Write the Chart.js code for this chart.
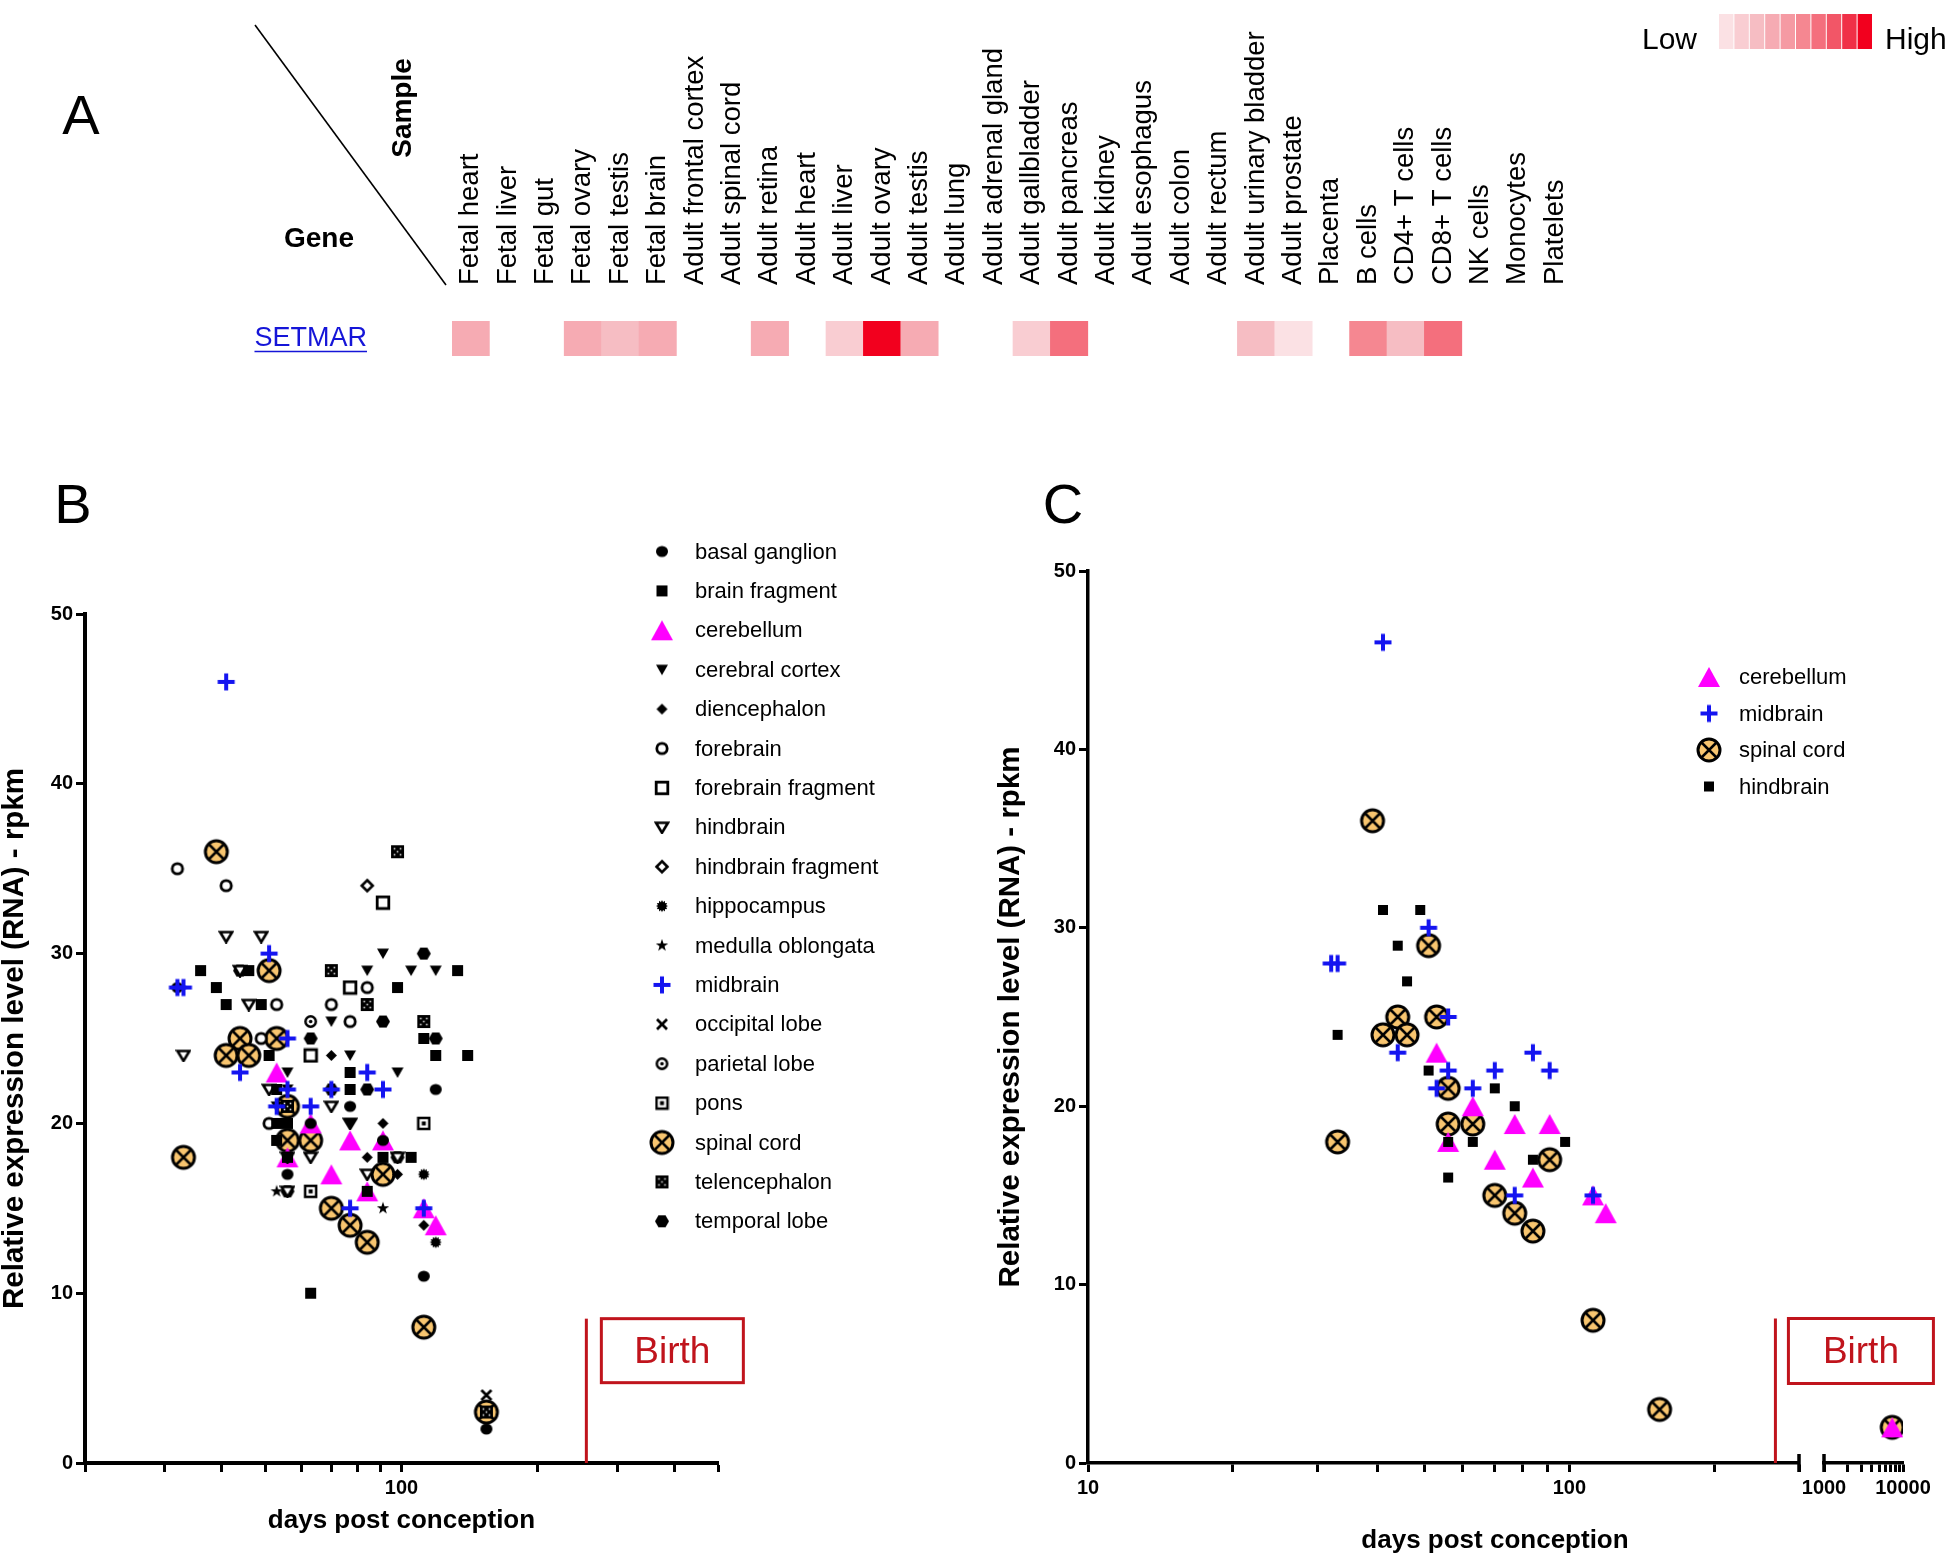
<!DOCTYPE html>
<html><head><meta charset="utf-8">
<script src="https://cdn.jsdelivr.net/npm/chart.js@4.4.1/dist/chart.umd.min.js"></script>
<style>
html,body{margin:0;padding:0;background:#fff;}
body{width:1952px;height:1556px;position:relative;overflow:hidden;}
canvas{position:absolute;display:block;}
</style></head><body>
<canvas id="cA" width="1952" height="470" style="left:0;top:0"></canvas>
<canvas id="cB" width="960" height="1086" style="left:0;top:470px"></canvas>
<canvas id="cC" width="992" height="1086" style="left:960px;top:470px"></canvas>
<canvas id="cC2" width="162" height="1086" style="left:1790px;top:470px"></canvas>
<script>
// ---------------- DATA ----------------
const tissues = ['Fetal heart','Fetal liver','Fetal gut','Fetal ovary','Fetal testis','Fetal brain','Adult frontal cortex','Adult spinal cord','Adult retina','Adult heart','Adult liver','Adult ovary','Adult testis','Adult lung','Adult adrenal gland','Adult gallbladder','Adult pancreas','Adult kidney','Adult esophagus','Adult colon','Adult rectum','Adult urinary bladder','Adult prostate','Placenta','B cells','CD4+ T cells','CD8+ T cells','NK cells','Monocytes','Platelets'];
const setmarLevels = [4,0,0,4,3,4,0,0,4,0,2,10,4,0,0,2,7,0,0,0,0,3,1,0,6,3,7,0,0,0];
const geneName = 'SETMAR';

// [days post conception, rpkm]
const basalGanglion = [[32,28],[56,17],[77,21],[119,22],[91,19],[112,11],[154,2],[63,20]];
const brainFragment = [[36,29],[46,29],[39,28],[41,27],[49,27],[51,24],[133,29],[98,28],[112,25],[119,24],[140,24],[77,23],[77,22],[53,22],[53,20],[56,20],[53,19],[56,18],[91,18],[105,18],[84,16],[63,10]];
const cerebellum = [[53,23],[63,20],[77,19],[91,19],[56,18],[70,17],[84,16],[112,15],[119,14],[7300,2]];
const cerebralCortex = [[56,23],[70,26],[91,30],[84,29],[105,29],[119,29],[77,24],[98,23],[77,20],[53,21],[56,22]];
const diencephalon = [[70,24],[91,20],[84,18],[98,17],[112,14]];
const forebrain = [[32,35],[41,34],[53,27],[70,27],[49,25],[84,28],[77,26],[51,20]];
const forebrainFragment = [[91,33],[77,28],[63,24]];
const hindbrain = [[41,31],[49,31],[44,29],[46,27],[33,24],[51,22],[56,18],[63,18],[56,16],[70,21],[77,20],[84,17],[98,18]];
const hindbrainFragment = [[84,34]];
const hippocampus = [[112,17],[119,13]];
const medullaOblongata = [[53,16],[91,15]];
const midbrain = [[41,46],[32,28],[33,28],[51,30],[44,23],[56,25],[56,22],[53,21],[63,21],[70,22],[84,23],[91,22],[77,15],[112,15]];
const occipitalLobe = [[154,4]];
const parietalLobe = [[63,26]];
const pons = [[63,16],[112,20]];
const spinalCord = [[39,36],[51,29],[44,25],[41,24],[46,24],[53,25],[56,21],[56,19],[63,19],[33,18],[91,17],[70,15],[77,14],[84,13],[112,8],[154,3],[7300,2]];
const telencephalon = [[98,36],[70,29],[84,27],[112,26],[56,21],[154,3]];
const temporalLobe = [[44,29],[63,25],[112,30],[91,26],[119,25],[70,22],[84,22],[98,18],[56,16]];

const regionNamesB = ['basal ganglion','brain fragment','cerebellum','cerebral cortex','diencephalon','forebrain','forebrain fragment','hindbrain','hindbrain fragment','hippocampus','medulla oblongata','midbrain','occipital lobe','parietal lobe','pons','spinal cord','telencephalon','temporal lobe'];
const regionPointsB = [basalGanglion,brainFragment,cerebellum,cerebralCortex,diencephalon,forebrain,forebrainFragment,hindbrain,hindbrainFragment,hippocampus,medullaOblongata,midbrain,occipitalLobe,parietalLobe,pons,spinalCord,telencephalon,temporalLobe];
const regionNamesC = ['cerebellum','midbrain','spinal cord','hindbrain'];
const regionPointsC = [cerebellum,midbrain,spinalCord,hindbrain];

const yTicks = [0,10,20,30,40,50];
const xTicksB = [20,30,40,50,60,70,80,90,100,200,300,400,500];
const xLabelsB = [100];
const xTicksC = [10,20,30,40,50,60,70,80,90,100,200,300];
const xLabelsC = [10,100];
const xTicksC2 = [1000,2000,3000,4000,5000,6000,7000,8000,9000,10000];
const xLabelsC2 = [1000,10000];
const birthDayB = 256, birthDayC = 268;

// ---------------- STYLE ----------------
const FF = "'Liberation Sans', Arial, Helvetica, sans-serif";
const NARROW = "'Liberation Sans Narrow', 'Arial Narrow', 'Liberation Sans', sans-serif";
const RED = '#c0141c';
const heatPalette = [null,'#fbe1e4','#f9cdd2','#f6bdc3','#f6abb3','#f59aa3','#f58791','#f46f7d','#f25667','#f03047','#f2001e'];
const colFont = 27.5;

function makeMarker(w,h,fn){const c=document.createElement('canvas');c.width=w;c.height=h;const g=c.getContext('2d');g.translate(w/2,h/2);fn(g);return c;}
const K='#000';
const M = {
  basal: makeMarker(14,14,g=>{g.fillStyle=K;g.beginPath();g.ellipse(0,0,6,5.5,0,0,2*Math.PI);g.fill();}),
  brainFrag: makeMarker(13,13,g=>{g.fillStyle=K;g.fillRect(-5.5,-5.5,11,11);}),
  cerebellum: makeMarker(24,22,g=>{g.fillStyle='#ff00ff';g.beginPath();g.moveTo(0,-10);g.lineTo(11,10);g.lineTo(-11,10);g.closePath();g.fill();}),
  cerebral: makeMarker(14,13,g=>{g.fillStyle=K;g.beginPath();g.moveTo(-6,-5);g.lineTo(6,-5);g.lineTo(0,5.5);g.closePath();g.fill();}),
  dienceph: makeMarker(13,13,g=>{g.fillStyle=K;g.beginPath();g.moveTo(0,-5.5);g.lineTo(5.5,0);g.lineTo(0,5.5);g.lineTo(-5.5,0);g.closePath();g.fill();}),
  forebrain: makeMarker(16,16,g=>{g.fillStyle='#fff';g.strokeStyle=K;g.lineWidth=2.8;g.beginPath();g.arc(0,0,5.2,0,2*Math.PI);g.fill();g.stroke();}),
  forebrainFrag: makeMarker(16,16,g=>{g.fillStyle='#fff';g.fillRect(-5.8,-5.8,11.6,11.6);g.strokeStyle=K;g.lineWidth=2.8;g.strokeRect(-5.8,-5.8,11.6,11.6);}),
  hindbrain: makeMarker(16,14,g=>{g.fillStyle='#fff';g.strokeStyle=K;g.lineWidth=2.6;g.beginPath();g.moveTo(-6,-4.5);g.lineTo(6,-4.5);g.lineTo(0,5.5);g.closePath();g.fill();g.stroke();}),
  hindbrainFrag: makeMarker(16,16,g=>{g.fillStyle='#fff';g.strokeStyle=K;g.lineWidth=2.6;g.beginPath();g.moveTo(0,-5.5);g.lineTo(5.5,0);g.lineTo(0,5.5);g.lineTo(-5.5,0);g.closePath();g.fill();g.stroke();}),
  hippo: makeMarker(14,14,g=>{g.fillStyle=K;g.beginPath();for(let i=0;i<24;i++){const a=i*Math.PI/12;const r=i%2?4.2:6;g.lineTo(r*Math.cos(a),r*Math.sin(a));}g.closePath();g.fill();}),
  medulla: makeMarker(14,14,g=>{g.fillStyle=K;g.beginPath();for(let i=0;i<10;i++){const a=-Math.PI/2+i*Math.PI/5;const r=i%2?2.6:6.5;g.lineTo(r*Math.cos(a),r*Math.sin(a));}g.closePath();g.fill();}),
  midbrain: makeMarker(20,20,g=>{g.fillStyle='#1414f0';g.fillRect(-8.5,-2,17,4);g.fillRect(-2,-8.5,4,17);}),
  occipital: makeMarker(14,14,g=>{g.strokeStyle=K;g.lineWidth=2.8;g.beginPath();g.moveTo(-5,-5);g.lineTo(5,5);g.moveTo(5,-5);g.lineTo(-5,5);g.stroke();}),
  parietal: makeMarker(15,15,g=>{g.strokeStyle=K;g.lineWidth=2.5;g.fillStyle='#fff';g.beginPath();g.arc(0,0,5.2,0,2*Math.PI);g.fill();g.stroke();g.fillStyle=K;g.beginPath();g.arc(0,0,1.8,0,2*Math.PI);g.fill();}),
  pons: makeMarker(15,15,g=>{g.fillStyle='#fff';g.fillRect(-5.5,-5.5,11,11);g.strokeStyle=K;g.lineWidth=2.5;g.strokeRect(-5.5,-5.5,11,11);g.fillStyle=K;g.fillRect(-2,-2,4,4);}),
  spinal: makeMarker(28,28,g=>{g.beginPath();g.arc(0,0,11,0,2*Math.PI);g.fillStyle='#f8c56f';g.fill();g.lineWidth=3;g.strokeStyle=K;g.stroke();g.lineWidth=2.5;const d=7;g.beginPath();g.moveTo(-d,-d);g.lineTo(d,d);g.moveTo(d,-d);g.lineTo(-d,d);g.stroke();}),
  telen: makeMarker(15,15,g=>{g.fillStyle=K;g.fillRect(-6.5,-6.5,13,13);g.fillStyle='#ddd';[[-3,-3],[3,-3],[-3,3],[3,3],[0,0]].forEach(([a,b])=>g.fillRect(a-0.8,b-0.8,1.6,1.6));}),
  temporal: makeMarker(16,14,g=>{g.fillStyle=K;g.beginPath();g.moveTo(-7,0);g.lineTo(-3.5,-6);g.lineTo(3.5,-6);g.lineTo(7,0);g.lineTo(3.5,6);g.lineTo(-3.5,6);g.closePath();g.fill();}),
  squareC: makeMarker(12,12,g=>{g.fillStyle=K;g.fillRect(-5,-5,10,10);})
};
const markerB = {'basal ganglion':M.basal,'brain fragment':M.brainFrag,'cerebellum':M.cerebellum,'cerebral cortex':M.cerebral,'diencephalon':M.dienceph,'forebrain':M.forebrain,'forebrain fragment':M.forebrainFrag,'hindbrain':M.hindbrain,'hindbrain fragment':M.hindbrainFrag,'hippocampus':M.hippo,'medulla oblongata':M.medulla,'midbrain':M.midbrain,'occipital lobe':M.occipital,'parietal lobe':M.parietal,'pons':M.pons,'spinal cord':M.spinal,'telencephalon':M.telen,'temporal lobe':M.temporal};
const markerC = {'cerebellum':M.cerebellum,'midbrain':M.midbrain,'spinal cord':M.spinal,'hindbrain':M.squareC};
const layer = {'spinal cord':4,'cerebellum':3,'midbrain':1};

const tickFont = {family:FF,size:20,weight:'bold'};
const titleFont = {family:FF,size:26,weight:'bold'};
const yTitleFont = {family:FF,size:29.5,weight:'bold'};

// ---------------- PANEL A ----------------
const panelA = {
  id:'panelA',
  afterDraw(chart){
    const ctx=chart.ctx; ctx.save();
    ctx.fillStyle='#000'; ctx.font=`56px ${NARROW}`; ctx.textAlign='center'; ctx.textBaseline='alphabetic';
    ctx.fillText('A',81,134);
    ctx.strokeStyle='#000'; ctx.lineWidth=1.6; ctx.beginPath(); ctx.moveTo(255,25); ctx.lineTo(446,285); ctx.stroke();
    ctx.font=`bold 28px ${FF}`;
    ctx.fillText('Gene',319,247);
    ctx.save(); ctx.translate(411,108); ctx.rotate(-Math.PI/2); ctx.textBaseline='alphabetic'; ctx.fillText('Sample',0,0); ctx.restore();
    // underline of gene link
    const ys=chart.scales.yg; const ly=ys.getPixelForValue(0);
    ctx.font=`27px ${FF}`; const w=ctx.measureText(geneName).width;
    const rx=ys.right-85;
    ctx.strokeStyle='#1515d8'; ctx.lineWidth=1.6; ctx.beginPath(); ctx.moveTo(rx-w,ly+13); ctx.lineTo(rx,ly+13); ctx.stroke();
    // colour key
    const x0=1719, sw=15.4;
    for(let i=1;i<=10;i++){ctx.fillStyle=heatPalette[i]; ctx.fillRect(x0+(i-1)*sw,14,sw-1,35);}
    ctx.fillStyle='#000'; ctx.font=`30px ${FF}`; ctx.textAlign='left'; ctx.textBaseline='alphabetic';
    ctx.fillText('Low',1642,49); ctx.fillText('High',1885,49);
    ctx.restore();
  }
};
new Chart(document.getElementById('cA'),{
  type:'bar',
  data:{labels:tissues,datasets:[{data:setmarLevels.map(l=>l>0?1:null),backgroundColor:setmarLevels.map(l=>heatPalette[l]||'#fff'),barPercentage:1,categoryPercentage:1,borderWidth:0,xAxisID:'x',yAxisID:'y'}]},
  options:{responsive:false,animation:false,events:[],
    layout:{autoPadding:false,padding:{left:0,top:0,right:378,bottom:114}},
    plugins:{legend:{display:false},tooltip:{enabled:false}},
    scales:{
      x:{type:'category',position:'top',offset:true,afterFit:s=>{s.height=321;},grid:{display:false},border:{display:false},
         ticks:{autoSkip:false,minRotation:90,maxRotation:90,padding:28,labelOffset:colFont*1.2,font:{family:FF,size:colFont},color:'#000'}},
      y:{type:'linear',min:0,max:1,display:false},
      yg:{type:'category',labels:[geneName],position:'left',offset:true,afterFit:s=>{s.width=452;},grid:{display:false},border:{display:false},
         ticks:{padding:77,font:{family:FF,size:27},color:'#1515d8'}}
    }},
  plugins:[panelA]
});

// ---------------- helpers for B & C ----------------
function yAxis(width,title,bw){
  return {type:'linear',min:0,max:50,afterFit:s=>{s.width=width;},
    afterBuildTicks:s=>{s.ticks=yTicks.map(v=>({value:v}));},
    ticks:{padding:3,font:tickFont,color:'#000'},
    grid:{drawOnChartArea:false,drawTicks:true,tickLength:9,tickWidth:3,color:'#000'},
    border:{display:true,width:bw,color:'#000'},
    title:{display:!!title,text:title,font:yTitleFont,color:'#000',padding:{top:-3,bottom:0}}};
}
function xAxis(min,max,ticks,labels,title,bw){
  return {type:'logarithmic',min,max,afterFit:s=>{s.height=77;},
    afterBuildTicks:s=>{s.ticks=ticks.map(v=>({value:v}));},
    ticks:{autoSkip:false,maxRotation:0,minRotation:0,padding:4,font:tickFont,color:'#000',callback:v=>labels.includes(v)?String(v):''},
    grid:{drawOnChartArea:false,drawTicks:true,tickLength:9,tickWidth:3,color:'#000'},
    border:{display:true,width:bw,color:'#000'},
    title:{display:!!title,text:title||'',font:titleFont,color:'#000',padding:{top:0,bottom:4}}};
}
function birth(ctx,xs,ys,day,top,gap,bw,bh){
  const bx=xs.getPixelForValue(day),y0=ys.getPixelForValue(0),yt=ys.getPixelForValue(top);
  ctx.strokeStyle=RED;ctx.lineWidth=3;ctx.beginPath();ctx.moveTo(bx,y0);ctx.lineTo(bx,yt);ctx.stroke();
  ctx.strokeRect(bx+gap,yt,bw,bh);
  ctx.fillStyle=RED;ctx.font=`37px ${FF}`;ctx.textAlign='center';ctx.textBaseline='middle';
  ctx.fillText('Birth',bx+gap+bw/2,yt+bh/2+2);
}
function legend(ctx,names,markers,mx,tx,y0,step){
  ctx.font=`22px ${FF}`;ctx.textAlign='left';ctx.textBaseline='middle';ctx.fillStyle='#000';
  names.forEach((n,i)=>{const yy=y0+i*step;const m=markers[n];ctx.drawImage(m,mx-m.width/2,yy-m.height/2);ctx.fillStyle='#000';ctx.fillText(n,tx,yy+1);});
}
function ds(names,points,markers){
  return names.map((n,i)=>({label:n,data:points[i].map(([x,y])=>({x,y})),pointStyle:markers[n],pointRadius:6,order:layer[n]??2}));
}
const baseOpts={responsive:false,animation:false,events:[],plugins:{legend:{display:false},tooltip:{enabled:false}}};

// ---------------- PANEL B ----------------
new Chart(document.getElementById('cB'),{
  type:'scatter',
  data:{datasets:ds(regionNamesB,regionPointsB,markerB)},
  options:{...baseOpts,
    layout:{autoPadding:false,padding:{left:0,top:144,right:242,bottom:16}},
    scales:{x:xAxis(20,500,xTicksB,xLabelsB,'days post conception',4),y:yAxis(85,'Relative expression level (RNA) - rpkm',4)}},
  plugins:[{id:'pB',afterDraw(chart){
    const ctx=chart.ctx;ctx.save();
    ctx.fillStyle='#000';ctx.font=`56px ${NARROW}`;ctx.textAlign='center';ctx.textBaseline='alphabetic';ctx.fillText('B',73,53);
    birth(ctx,chart.scales.x,chart.scales.y,birthDayB,8.5,15,142,64);
    legend(ctx,regionNamesB,markerB,662,695,81.5,39.4);
    ctx.restore();
  }}]
});

// ---------------- PANEL C ----------------
new Chart(document.getElementById('cC'),{
  type:'scatter',
  data:{datasets:ds(regionNamesC,regionPointsC,markerC)},
  options:{...baseOpts,
    layout:{autoPadding:false,padding:{left:36,top:101,right:153,bottom:16}},
    scales:{x:xAxis(10,300,xTicksC,xLabelsC,'',3.5),y:yAxis(92,'Relative expression level (RNA) - rpkm',3.5)}},
  plugins:[{id:'pC',afterDraw(chart){
    const ctx=chart.ctx;const xs=chart.scales.x,ys=chart.scales.y;ctx.save();
    ctx.fillStyle='#000';ctx.font=`56px ${NARROW}`;ctx.textAlign='center';ctx.textBaseline='alphabetic';ctx.fillText('C',103,53);
    ctx.font=`bold 26px ${FF}`;ctx.textBaseline='middle';ctx.fillText('days post conception',535,1071);
    const y0=ys.getPixelForValue(0);ctx.strokeStyle='#000';ctx.lineWidth=3.5;ctx.beginPath();ctx.moveTo(xs.right,y0-9);ctx.lineTo(xs.right,y0+9);ctx.stroke();
    birth(ctx,xs,ys,birthDayC,8.1,13,145,65);
    legend(ctx,regionNamesC,markerC,749,779,207,36.5);
    ctx.restore();
  }}]
});
new Chart(document.getElementById('cC2'),{
  type:'scatter',
  data:{datasets:ds(regionNamesC,regionPointsC,markerC)},
  options:{...baseOpts,
    layout:{autoPadding:false,padding:{left:34,top:101,right:49,bottom:16}},
    scales:{x:xAxis(1000,10000,xTicksC2,xLabelsC2,'',3.5),y:{type:'linear',min:0,max:50,display:false}}},
  plugins:[{id:'pC2',afterDraw(chart){
    const ctx=chart.ctx;const xs=chart.scales.x,ys=chart.scales.y;const y0=ys.getPixelForValue(0);
    ctx.save();ctx.strokeStyle='#000';ctx.lineWidth=3.5;ctx.beginPath();ctx.moveTo(xs.left,y0-9);ctx.lineTo(xs.left,y0+9);ctx.stroke();ctx.restore();
  }}]
});
</script>
</body></html>
